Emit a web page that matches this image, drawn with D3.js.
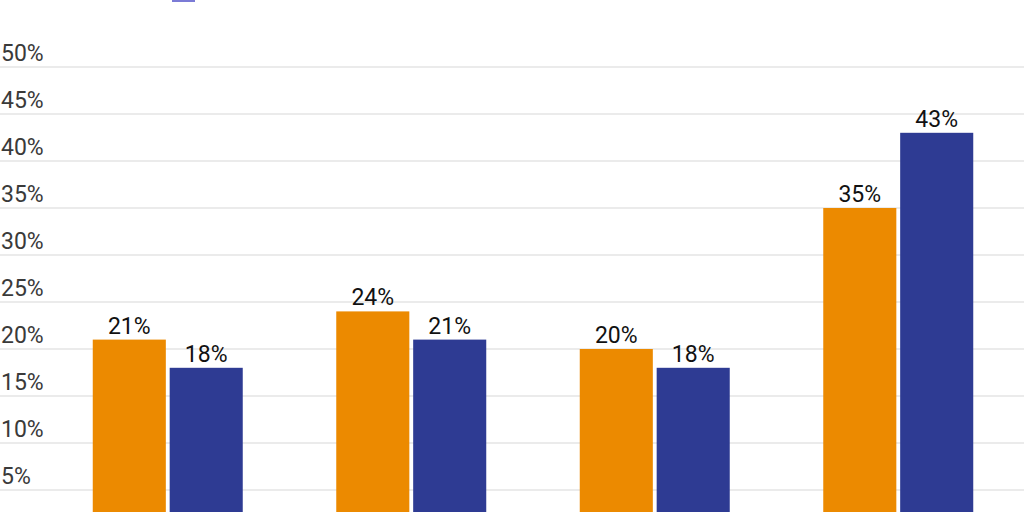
<!DOCTYPE html>
<html>
<head>
<meta charset="utf-8">
<script src="https://cdn.jsdelivr.net/npm/d3@7"></script>
<style>
  html, body { margin: 0; padding: 0; background: #fff; overflow: hidden; }
  svg { display: block; font-family: Roboto, "Liberation Sans", sans-serif; font-weight: 400; }
</style>
</head>
<body>
<div id="chart"></div>
<script>
// chart values (category names fall below the visible crop)
var categories = ["Group 1", "Group 2", "Group 3", "Group 4"];
var seriesNames = ["Series A", "Series B"];
var seriesA = [21, 24, 20, 35];
var seriesB = [18, 21, 18, 43];
var yTicks = [0, 5, 10, 15, 20, 25, 30, 35, 40, 45, 50];

var colors = ["#ec8a00", "#2e3b93"];

var width = 1024, height = 512;

var data = categories.map(function(c, i) {
    return {category: c, values: [seriesA[i], seriesB[i]]};
});

var svg = d3.select("#chart").append("svg")
    .attr("width", width)
    .attr("height", height);

var x0 = d3.scaleBand()
    .domain(categories)
    .range([46, 1020])
    .paddingInner(0.384)
    .paddingOuter(0.192);

var x1 = d3.scaleBand()
    .domain(d3.range(seriesNames.length))
    .range([0, x0.bandwidth()])
    .paddingInner(0.05);

var y = d3.scaleLinear()
    .domain([0, 50])
    .range([537, 67]);

// gridlines + tick labels sitting just above each line
var grid = svg.append("g").attr("class", "grid");
grid.selectAll("line")
    .data(yTicks)
    .enter().append("line")
    .attr("x1", 0)
    .attr("x2", width)
    .attr("y1", function(d) { return y(d); })
    .attr("y2", function(d) { return y(d); })
    .style("stroke", "#e4e4e4")
    .style("stroke-width", 1.5);

grid.selectAll("text")
    .data(yTicks)
    .enter().append("text")
    .attr("x", 1)
    .attr("y", function(d) { return y(d) - 6.5; })
    .style("font-size", "23px")
    .style("fill", "#3a3a3a")
    .text(function(d) { return d + "%"; });

// legend swatch, mostly cut off at the top of the frame
svg.append("rect")
    .attr("x", 172)
    .attr("y", -20)
    .attr("width", 23)
    .attr("height", 22)
    .style("fill", "#7b7bd6");

var group = svg.selectAll(".group")
    .data(data)
    .enter().append("g")
    .attr("class", "group")
    .attr("transform", function(d) { return "translate(" + x0(d.category) + ",0)"; });

group.selectAll("rect")
    .data(function(d) { return d.values; })
    .enter().append("rect")
    .attr("x", function(d, i) { return x1(i); })
    .attr("y", function(d) { return y(d); })
    .attr("width", x1.bandwidth())
    .attr("height", function(d) { return y(0) - y(d); })
    .style("fill", function(d, i) { return colors[i]; });

group.selectAll("text")
    .data(function(d) { return d.values; })
    .enter().append("text")
    .attr("x", function(d, i) { return x1(i) + x1.bandwidth() / 2; })
    .attr("y", function(d) { return y(d) - 6; })
    .attr("text-anchor", "middle")
    .style("font-size", "23px")
    .style("fill", "#111")
    .text(function(d) { return d + "%"; });
</script>
</body>
</html>
